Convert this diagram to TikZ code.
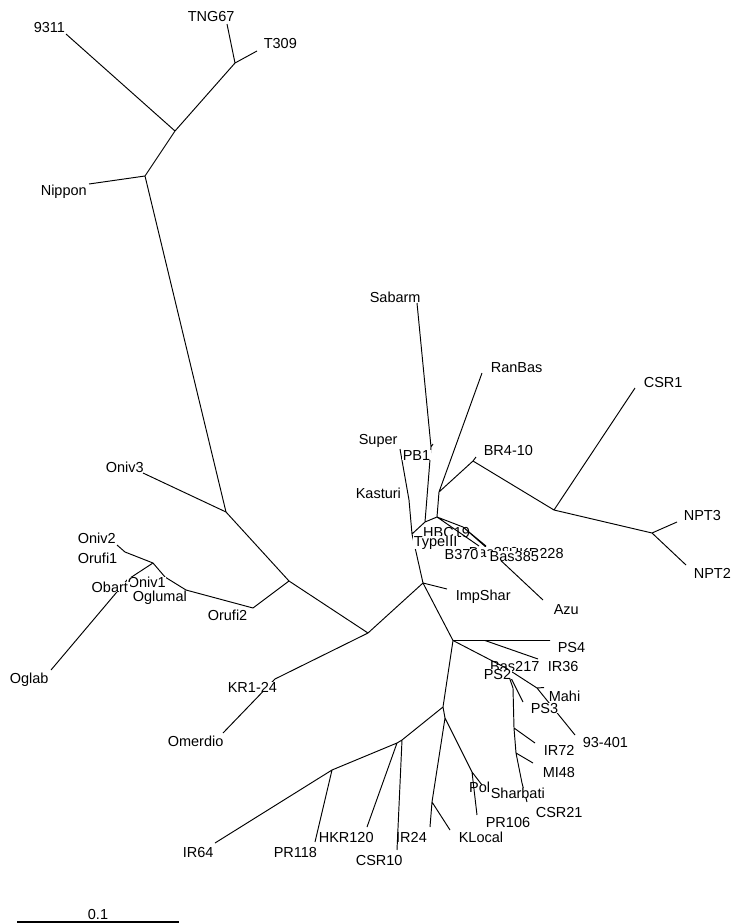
\documentclass[tikz,border=0pt]{standalone}
\usepackage{fontspec}
\setmainfont{Liberation Sans}
\begin{document}
\begin{tikzpicture}[x=1pt,y=-1pt,
  br/.style={line width=0.95pt},
  lbl/.style={anchor=base west, inner sep=0pt, font=\fontsize{14.5}{17}\selectfont},
  lblw/.style={lbl, fill=white, inner xsep=0.6pt},
  lblwide/.style={lblw, inner xsep=2.5pt}]
\useasboundingbox (0,0) rectangle (736,924);

% ---- branch points and leaf tips ----
% top group
\coordinate (tng) at (227,24);   \coordinate (t309) at (257,51);
\coordinate (t1) at (235,63);    \coordinate (t2) at (175,131);
\coordinate (p9311) at (66,34);  \coordinate (t3) at (145,176);
\coordinate (nip) at (89,184);
% wild species
\coordinate (o1) at (226,512);   \coordinate (oniv3) at (143,473);
\coordinate (o2) at (289,581);   \coordinate (o3) at (253,608);
\coordinate (o4) at (186,590);   \coordinate (o5) at (165,577);
\coordinate (o6) at (153,563);   \coordinate (o7) at (125,552);
\coordinate (oniv2) at (117,545);\coordinate (o8) at (127,580);
\coordinate (oglab) at (51,670);
% centre
\coordinate (c0) at (368,633);   \coordinate (g1) at (275,679);
\coordinate (omer) at (223,733); \coordinate (h1) at (423,583);
\coordinate (imp) at (447,589);  \coordinate (i1) at (412,534);
\coordinate (j1) at (409,500);   \coordinate (sup) at (400,449);
\coordinate (k1) at (425,522);   \coordinate (l1) at (431,447);
\coordinate (l1t) at (433,444);  \coordinate (sab) at (417,303);
\coordinate (m1) at (437,517);   \coordinate (n1) at (439,492);
\coordinate (ranb) at (482,373); \coordinate (br) at (473,461);
\coordinate (brt) at (476,457);  \coordinate (p1) at (554,510);
\coordinate (csr1) at (635,388); \coordinate (q1) at (652,533);
\coordinate (npt3) at (677,522); \coordinate (npt2) at (686,565);
\coordinate (r1) at (463,527);   \coordinate (b386) at (486,546);
\coordinate (b370) at (479,546); \coordinate (r2) at (496,556);
\coordinate (azu) at (543,600);
% lower group
\coordinate (v1) at (453,640.5); \coordinate (w1) at (485,640.5);
\coordinate (ps4) at (550,640.5);\coordinate (ir36) at (538,659);
\coordinate (x1) at (506,668);   \coordinate (z1) at (537,688);
\coordinate (z1t) at (544,687.5);
\coordinate (n93) at (575,735);  \coordinate (ps3) at (523,702);
\coordinate (y1) at (513,688);   \coordinate (y2) at (514,728);
\coordinate (ir72) at (535,743); \coordinate (y3) at (516,753);
\coordinate (mi48) at (533,763); \coordinate (y4) at (522,783);
\coordinate (csr21) at (527,802);
\coordinate (aa) at (443,707);   \coordinate (cc1) at (402,740);
\coordinate (csr10) at (397,850);\coordinate (cc2) at (397,743);
\coordinate (hkr120) at (367,827);\coordinate (dd) at (332,770);
\coordinate (pr118) at (315,842);\coordinate (ir64) at (215,843);
\coordinate (ee) at (445,718);   \coordinate (bb) at (472,772);
\coordinate (pol) at (482,785);  \coordinate (pr106) at (477,815);
\coordinate (ff) at (432,802);   \coordinate (ir24) at (430,827);
\coordinate (kloc) at (450,830);

% ---- branches ----
\draw[br] (tng)--(t1) (t309)--(t1) (t1)--(t2) (p9311)--(t2) (t2)--(t3)
  (nip)--(t3) (t3)--(o1);
\draw[br] (o1)--(oniv3) (o1)--(o2) (o2)--(o3) (o3)--(o4) (o4)--(o5)
  (o5)--(o6) (o6)--(o7) (o7)--(oniv2) (o6)--(o8) (o8)--(oglab);
\draw[br] (o2)--(c0) (c0)--(g1) (g1)--(omer) (c0)--(h1) (h1)--(imp)
  (h1)--(i1) (i1)--(j1) (j1)--(sup) (i1)--(k1) (k1)--(l1) (l1)--(sab)
  (l1)--(l1t) (k1)--(m1) (m1)--(n1) (n1)--(ranb) (n1)--(br) (br)--(brt)
  (br)--(p1) (p1)--(csr1) (p1)--(q1) (q1)--(npt3) (q1)--(npt2)
  (m1)--(r1) (r1)--(b386) (m1)--(b370) (r1)--(r2) (r2)--(azu);
\draw[br] (h1)--(v1) (v1)--(w1) (w1)--(ps4) (w1)--(ir36) (v1)--(x1)
  (x1)--(z1) (z1)--(z1t) (z1)--(n93) (x1)--(ps3) (x1)--(y1) (y1)--(y2)
  (y2)--(ir72) (y2)--(y3) (y3)--(mi48) (y3)--(y4) (y4)--(csr21);
\draw[br] (v1)--(aa) (aa)--(cc1) (cc1)--(csr10) (cc1)--(cc2)
  (cc2)--(hkr120) (cc2)--(dd) (dd)--(pr118) (dd)--(ir64)
  (aa)--(ee) (ee)--(bb) (bb)--(pol) (bb)--(pr106) (ee)--(ff)
  (ff)--(ir24) (ff)--(kloc);

% ---- taxon labels (later ones mask earlier ones) ----
\node[lblw] (lKas) at (355,498) {Kasturi};
\node[lblw] (lSup) at (358,444) {Super};
\node[lblw] (lPB1) at (402,460) {PB1};
\node[lblw] (lSab) at (369,302) {Sabarm};
\node[lblw] (lRan) at (490,372) {RanBas};
\node[lblw] (lBR) at (483,455) {BR4-10};
\node[lblw] (lCSR1) at (643,387) {CSR1};
\node[lblw] (lNPT3) at (683,520) {NPT3};
\node[lblw] (lNPT2) at (693,578) {NPT2};
\node[lbl] (lHBC) at (423,537) {HBC19};
\node[lblw] (lB386) at (468,557) {Bas386};
\node[lblw] (lHKR228) at (508,558) {HKR228};
\node[lblw] (lType) at (413,546) {TypeIII};
\node[lblwide] (lB370) at (442,559) {B370};
\node[lblwide] (lB385) at (487,561) {Bas385};
\node[lblw] (lAzu) at (553,614) {Azu};
\node[lblw] (lImp) at (455,600) {ImpShar};
\node[lblw] (lPS4) at (557,652) {PS4};
\node[lblw] (lIR36) at (547,671) {IR36};
\node[lbl] (lB217) at (490,671) {Bas217};
\node[lblw] (lPS2) at (483,679) {PS2};
\node[lblw] (lMahi) at (548,701) {Mahi};
\node[lblw] (lPS3) at (530,713) {PS3};
\node[lblw] (l93) at (582,747) {93-401};
\node[lblw] (lIR72) at (543,755) {IR72};
\node[lblw] (lMI48) at (542,777) {MI48};
\node[lbl] (lPol) at (469,792) {Pol};
\node[lblw] (lShar) at (490,798) {Sharbati};
\node[lblw] (lCSR21) at (535,817) {CSR21};
\node[lblw] (lPR106) at (485,827) {PR106};
\node[lblw] (lKLoc) at (458,842) {KLocal};
\node[lbl] (lIR24) at (396,842) {IR24};
\node[lblw] (lCSR10) at (355,865) {CSR10};
\node[lblw] (lHKR120) at (318,842) {HKR120};
\node[lblw] (lPR118) at (273,857) {PR118};
\node[lblw] (lIR64) at (182,857) {IR64};
\node[lblw] (lOmer) at (167,746) {Omerdio};
\node[lblw] (lKR) at (227,692) {KR1-24};
\node[lblw] (lOrufi2) at (207,620) {Orufi2};
\node[lblw] (lOglu) at (132,601) {Oglumal};
\node[lblw] (lOniv1) at (127,587) {Oniv1};
\node[lblwide] (lObart) at (89,592) {Obart};
\node[lblw] (lOrufi1) at (77,563) {Orufi1};
\node[lblw] (lOniv2) at (77,543) {Oniv2};
\node[lblw] (lOglab) at (9,683) {Oglab};
\node[lblw] (lOniv3) at (105,472) {Oniv3};
\node[lblw] (lNip) at (40,195) {Nippon};
\node[lblw] (l9311) at (33,32) {9311};
\node[lblw] (lTNG) at (187,21) {TNG67};
\node[lblw] (lT309) at (263,48) {T309};

% ---- scale bar ----
\coordinate (sb1) at (17,922); \coordinate (sb2) at (179,922);
\draw[line width=1.5pt] (sb1)--(sb2);
\node[lbl, anchor=base] (lScale) at (98,919) {0.1};
\end{tikzpicture}
\end{document}
